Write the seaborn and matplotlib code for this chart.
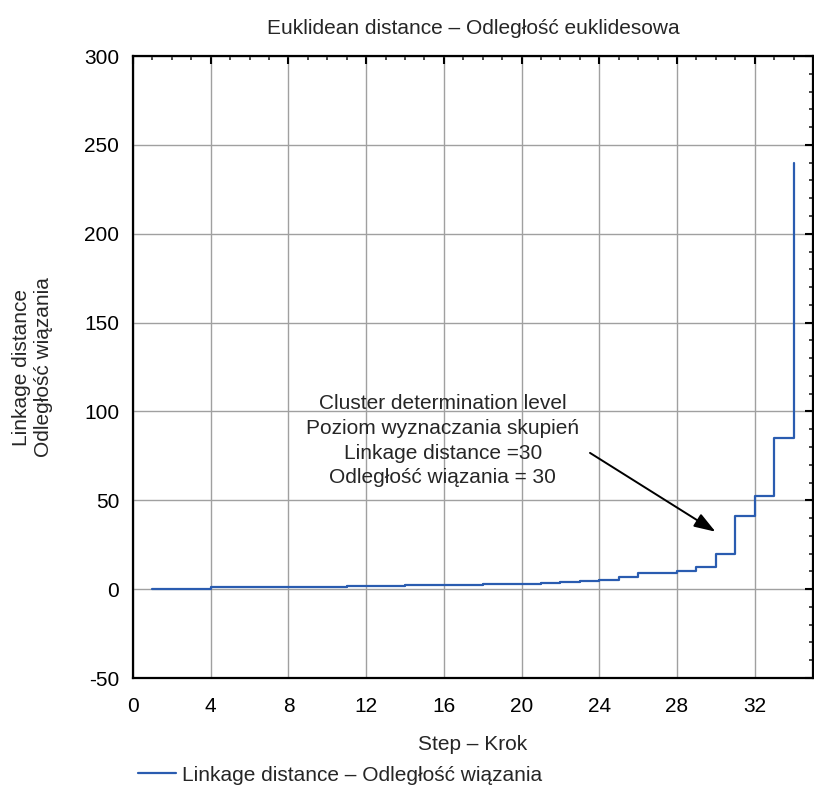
import matplotlib
matplotlib.use("Agg")
import matplotlib.pyplot as plt
from matplotlib.ticker import MultipleLocator
import seaborn as sns
import pandas as pd

steps = list(range(1, 35))
linkage = [0.2, 0.2, 0.2, 1.0, 1.0, 1.0, 1.0, 1.3, 1.4, 1.4,
           1.6, 1.7, 2.0, 2.2, 2.4, 2.4, 2.5, 2.7, 3.0, 3.1,
           3.6, 4.3, 4.5, 5.2, 7.0, 9.0, 9.2, 10.3, 12.7, 19.7,
           41.0, 52.4, 84.8, 240.0]
series_name = "Linkage distance – Odległość wiązania"
title = "Euklidean distance – Odległość euklidesowa"
xlabel = "Step – Krok"
ylabel = "Linkage distance\nOdległość wiązania"
annot_text = ("Cluster determination level\nPoziom wyznaczania skupień\n"
              "Linkage distance =30\nOdległość wiązania = 30")

df = pd.DataFrame({"step": steps, "dist": linkage, "series": series_name})

sns.set_style("white")
plt.rcParams["font.family"] = ["Liberation Sans", "DejaVu Sans"]
plt.rcParams["axes.unicode_minus"] = False

fig = plt.figure(figsize=(8.14, 7.87), dpi=100)
ax = fig.add_axes([0.1634, 0.1385, 0.8354, 0.7903])

sns.lineplot(data=df, x="step", y="dist", hue="series", palette=["#2a5cb0"],
             drawstyle="steps-post", linewidth=1.6, ax=ax, legend=False)

ax.set_xlim(0, 35)
ax.set_ylim(-50, 300)
ax.xaxis.set_major_locator(MultipleLocator(4))
ax.xaxis.set_minor_locator(MultipleLocator(1))
ax.yaxis.set_major_locator(MultipleLocator(50))
ax.yaxis.set_minor_locator(MultipleLocator(10))
ax.grid(True, which="major", color="#a0a0a0", linewidth=1.0)
ax.set_axisbelow(True)
ax.tick_params(which="major", direction="in", length=6, width=1.5,
               top=True, right=True, labelsize=15, colors="black")
ax.tick_params(axis="x", which="major", pad=14)
ax.tick_params(axis="y", which="major", pad=10)
ax.tick_params(which="minor", direction="in", length=3, width=1.2,
               top=True, right=True)
for s in ax.spines.values():
    s.set_linewidth(1.6)
    s.set_color("black")

ax.set_title(title, fontsize=15, pad=16)
ax.set_xlabel(xlabel, fontsize=15, labelpad=13)
ax.set_ylabel(ylabel, fontsize=15, labelpad=22)

ax.annotate("", xy=(30.1, 31.5), xytext=(23.4, 77.5),
            arrowprops=dict(arrowstyle="-|>,head_length=1.3,head_width=0.45",
                            color="black", lw=1.4))
ax.text(15.95, 83.5, annot_text, ha="center", va="center", fontsize=15,
        linespacing=1.38)

handle = plt.Line2D([], [], color="#2a5cb0", linewidth=1.6)
fig.legend([handle], [series_name], loc="lower left",
           bbox_to_anchor=(0.147, -0.021), frameon=False, fontsize=15,
           handlelength=1.8, handletextpad=0.3)

fig.savefig("out.png", dpi=100)
